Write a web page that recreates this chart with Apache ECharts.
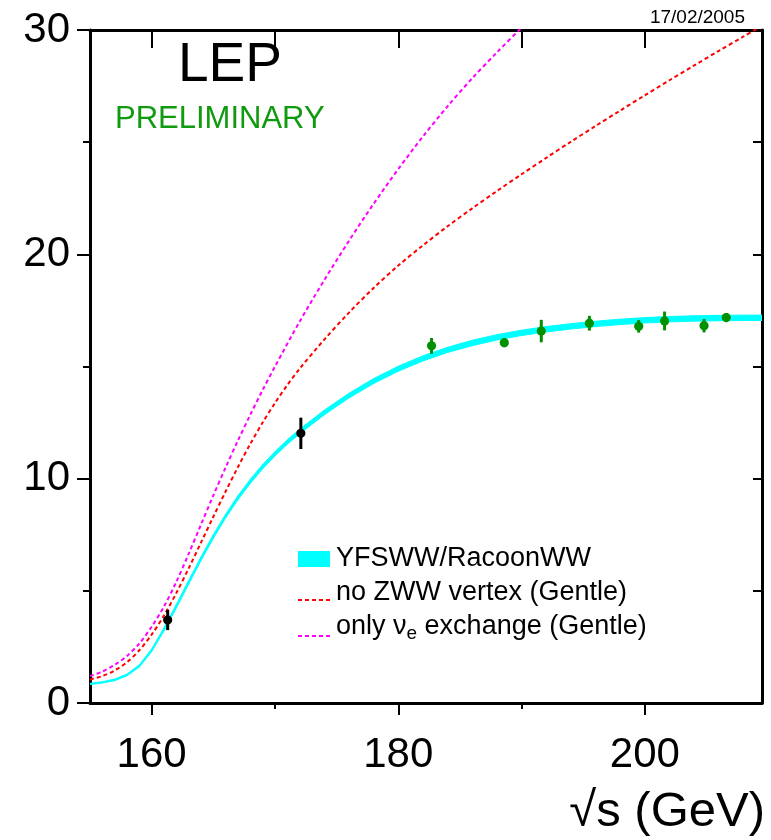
<!DOCTYPE html>
<html>
<head>
<meta charset="utf-8">
<script src="https://cdn.jsdelivr.net/npm/echarts@6/dist/echarts.min.js"></script>
<style>
html,body{margin:0;padding:0;background:#fff;}
#chart{width:771px;height:840px;}
</style>
</head>
<body>
<div id="chart"></div>
<script>
// ---- data ----
const curveX    = [155,156,157,158,159,160,161,162,163,164,165,166,167,168,169,170,171,172,174,176,178,180,182,184,186,188,190,192,194,196,198,200,202,204,206,208,210];
const yfswwY    = [0.85,0.92,1.03,1.25,1.65,2.35,3.28,4.31,5.38,6.43,7.42,8.33,9.15,9.88,10.53,11.11,11.63,12.1,12.95,13.7,14.35,14.9,15.36,15.74,16.05,16.3,16.5,16.66,16.79,16.9,16.99,17.06,17.11,17.14,17.16,17.17,17.17];
const yfswwBand = [0.06,0.06,0.07,0.08,0.1,0.12,0.14,0.16,0.17,0.17,0.17,0.17,0.18,0.18,0.19,0.19,0.2,0.2,0.21,0.21,0.22,0.22,0.23,0.23,0.24,0.24,0.24,0.24,0.24,0.24,0.24,0.24,0.24,0.24,0.24,0.24,0.24];
const noZwwY    = [1.05,1.2,1.45,1.82,2.35,3.05,3.9,4.9,6.0,7.15,8.3,9.43,10.52,11.55,12.5,13.37,14.17,14.9,16.2,17.4,18.5,19.5,20.4,21.25,22.05,22.82,23.57,24.3,25.02,25.72,26.41,27.09,27.76,28.42,29.07,29.71,30.35];
const nueX      = [155,156,157,158,159,160,161,162,163,164,165,166,167,168,169,170,172,174,176,178,180,182,184,186,188,190,192];
const nueY      = [1.2,1.4,1.7,2.1,2.65,3.4,4.3,5.4,6.65,7.95,9.25,10.5,11.7,12.85,13.95,15.0,17.0,18.85,20.6,22.25,23.8,25.25,26.6,27.85,29.0,30.1,31.1];
const greenX    = [182.7,188.6,191.6,195.5,199.5,201.6,204.8,206.6];
const greenY    = [15.92,16.06,16.58,16.93,16.79,17.03,16.82,17.18];
const greenErr  = [0.35,0.2,0.5,0.33,0.28,0.42,0.3,0.2];
const blackX    = [161.3,172.1];
const blackY    = [3.7,12.02];
const blackErr  = [0.45,0.7];
const xMajorTicks = [160,180,200];
const xMinorTicks = [170,190];
const yMajorTicks = [0,10,20,30];
const yMinorTicks = [5,15,25];
const legendLabels = ['YFSWW/RacoonWW','no ZWW vertex (Gentle)','only ν','e',' exchange (Gentle)'];

const FONT = '"Liberation Sans", Arial, Helvetica, sans-serif';
const pairs = (xs, ys) => xs.map((x,i)=>[x, ys[i]]);
const triples = (xs, ys, es) => xs.map((x,i)=>[x, ys[i], es[i]]);
// band segments: [x0, center0, width0, x1, center1, width1]
const bandSegs = curveX.slice(0,-1).map((x,i)=>[x, yfswwY[i], yfswwBand[i], curveX[i+1], yfswwY[i+1], yfswwBand[i+1]]);

function bandItem(params, api){
  const x0=api.value(0), c0=api.value(1), w0=api.value(2), x1=api.value(3), c1=api.value(4), w1=api.value(5);
  const pts = [api.coord([x0,c0-w0/2]), api.coord([x1,c1-w1/2]), api.coord([x1,c1+w1/2]), api.coord([x0,c0+w0/2])];
  return {type:'polygon', shape:{points:pts}, style:{fill:'#00ffff', stroke:'#00ffff', lineWidth:1}};
}

function errItem(color){
  return function(params, api){
    const x = api.value(0), y = api.value(1), e = api.value(2);
    const p = api.coord([x,y]), lo = api.coord([x,y-e]), hi = api.coord([x,y+e]);
    return {type:'group', children:[
      {type:'line', shape:{x1:p[0],y1:lo[1],x2:p[0],y2:hi[1]}, style:{stroke:color,lineWidth:3}},
      {type:'circle', shape:{cx:p[0],cy:p[1],r:4.6}, style:{fill:color}}
    ]};
  };
}

const chart = echarts.init(document.getElementById('chart'), null, {renderer:'canvas'});
const XMIN = 155, XMAX = 209.5;
const axisLineStyle = {color:'#000', width:3};
chart.setOption({
  animation:false,
  backgroundColor:'#fff',
  grid:{left:90, right:9, top:30, bottom:137, containLabel:false},
  xAxis:[
    {type:'value', min:XMIN, max:XMAX, position:'bottom',
     axisLine:{show:true, lineStyle:axisLineStyle, onZero:false},
     axisTick:{show:true, customValues:xMajorTicks, length:12, lineStyle:{color:'#000', width:2}},
     axisLabel:{show:true, customValues:xMajorTicks, fontSize:42, fontFamily:FONT, color:'#000', margin:31},
     splitLine:{show:false}},
    {type:'value', min:XMIN, max:XMAX, position:'bottom',
     axisLine:{show:false, onZero:false},
     axisTick:{show:true, customValues:xMinorTicks, length:6, lineStyle:{color:'#000', width:2}},
     axisLabel:{show:false}, splitLine:{show:false}},
    {type:'value', min:XMIN, max:XMAX, position:'top',
     axisLine:{show:true, lineStyle:axisLineStyle, onZero:false},
     axisTick:{show:true, inside:true, customValues:xMajorTicks.concat(xMinorTicks), length:18, lineStyle:{color:'#000', width:2}},
     axisLabel:{show:false}, splitLine:{show:false}}
  ],
  yAxis:[
    {type:'value', min:0, max:30, position:'left',
     axisLine:{show:true, lineStyle:axisLineStyle, onZero:false},
     axisTick:{show:true, customValues:yMajorTicks, length:13, lineStyle:{color:'#000', width:2}},
     axisLabel:{show:true, customValues:yMajorTicks, fontSize:42, fontFamily:FONT, color:'#000', margin:20},
     splitLine:{show:false}},
    {type:'value', min:0, max:30, position:'left',
     axisLine:{show:false, onZero:false},
     axisTick:{show:true, customValues:yMinorTicks, length:7, lineStyle:{color:'#000', width:2}},
     axisLabel:{show:false}, splitLine:{show:false}},
    {type:'value', min:0, max:30, position:'right',
     axisLine:{show:true, lineStyle:axisLineStyle, onZero:false},
     axisTick:{show:true, inside:true, customValues:yMinorTicks.concat([10,20]), length:9, lineStyle:{color:'#000', width:2}},
     axisLabel:{show:false}, splitLine:{show:false}}
  ],
  series:[
    {type:'custom', name:'YFSWW/RacoonWW', data:bandSegs, renderItem:bandItem, clip:true, z:2,
     encode:{x:[0,3], y:[1,4]}},
    {type:'line', name:'no ZWW', data:pairs(curveX, noZwwY), smooth:0.3, symbol:'none', clip:true,
     lineStyle:{color:'#ff0000', width:2, type:[4,3]}, z:3},
    {type:'line', name:'nue', data:pairs(nueX, nueY), smooth:0.3, symbol:'none', clip:true,
     lineStyle:{color:'#ff00ff', width:2, type:[4,3]}, z:3},
    {type:'custom', name:'LEP data', data:triples(greenX, greenY, greenErr), renderItem:errItem('#009000'), z:5,
     encode:{x:0, y:1}},
    {type:'custom', name:'early data', data:triples(blackX, blackY, blackErr), renderItem:errItem('#000000'), z:5,
     encode:{x:0, y:1}}
  ],
  graphic:[
    {type:'text', left:178, top:38, style:{text:'LEP', fontSize:55, fontFamily:FONT, fill:'#000'}},
    {type:'text', left:115, top:104, style:{text:'PRELIMINARY', fontSize:31, fontFamily:FONT, fill:'#109a10'}},
    {type:'text', right:26, top:8, style:{text:'17/02/2005', fontSize:19, fontFamily:FONT, fill:'#000'}},
    {type:'text', right:6, top:788, style:{text:'√s (GeV)', fontSize:49, fontFamily:FONT, fill:'#000'}},
    {type:'rect', shape:{x:298, y:551, width:32, height:16}, style:{fill:'#00ffff'}},
    {type:'line', shape:{x1:298, y1:600, x2:330, y2:600}, style:{stroke:'#ff0000', lineWidth:2, lineDash:[4,3]}},
    {type:'line', shape:{x1:298, y1:636, x2:330, y2:636}, style:{stroke:'#ff00ff', lineWidth:2, lineDash:[4,3]}},
    {type:'text', x:336, y:559, style:{text:legendLabels[0], fontSize:27, fontFamily:FONT, fill:'#000', verticalAlign:'middle'}},
    {type:'text', x:336, y:593, style:{text:legendLabels[1], fontSize:27, fontFamily:FONT, fill:'#000', verticalAlign:'middle'}},
    {type:'text', x:336, y:627, style:{
      text:'{a|'+legendLabels[2]+'}{s|'+legendLabels[3]+'}{a|'+legendLabels[4]+'}',
      verticalAlign:'middle',
      rich:{a:{fontSize:27, fontFamily:FONT, color:'#000'},
            s:{fontSize:19, fontFamily:FONT, color:'#000', padding:[13,0,0,0]}}}}
  ]
});
</script>
</body>
</html>
